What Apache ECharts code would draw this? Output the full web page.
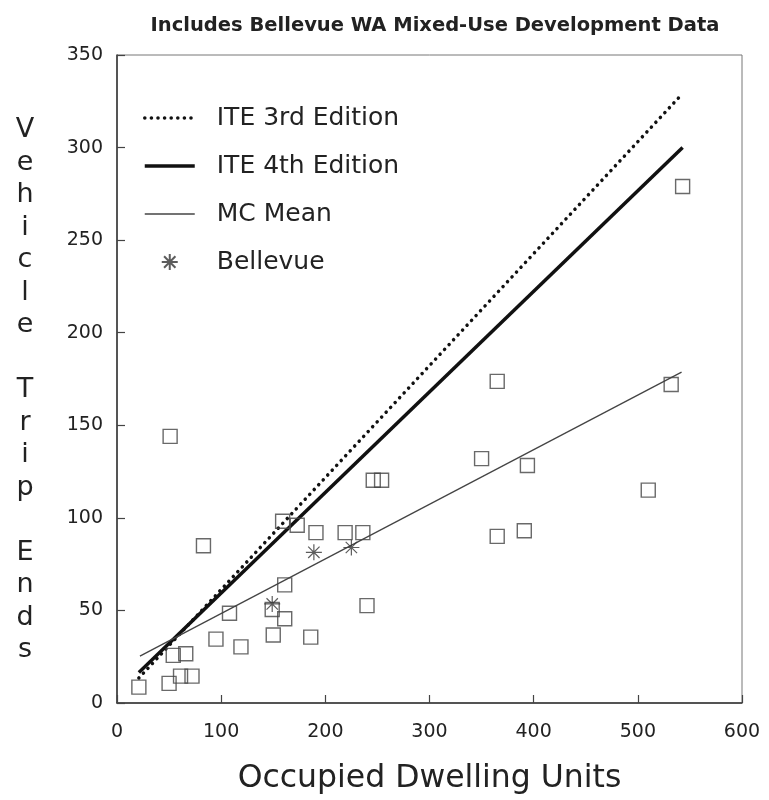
<!DOCTYPE html>
<html>
<head>
<meta charset="utf-8">
<script src="https://cdn.jsdelivr.net/npm/echarts@6/dist/echarts.min.js"></script>
<style>
  html, body { margin: 0; padding: 0; background: #fff; }
  #chart { width: 769px; height: 800px; }
</style>
</head>
<body>
<div id="chart"></div>
<script>
// Axis ticks
const xTicks = [0, 100, 200, 300, 400, 500, 600];
const yTicks = [0, 50, 100, 150, 200, 250, 300, 350];

// Observed sites: occupied dwelling units vs. vehicle trip ends
const siteUnits = [21, 50, 61, 72, 54, 66, 83, 95, 108, 119, 149, 150, 161, 161, 159, 173, 191, 186,
                   219, 236, 240, 51, 246, 254, 350, 365, 365, 391, 394, 510, 532, 543];
const siteTrips = [8.6, 10.6, 14.5, 14.5, 25.7, 26.6, 84.9, 34.5, 48.5, 30.3, 50.5, 36.7, 45.5, 63.8, 98.2, 96, 92, 35.6,
                   92, 92, 52.6, 144, 120.3, 120.3, 132, 173.7, 90, 93, 128.3, 115, 172, 279];

// Bellevue WA mixed-use sites
const bellevueUnits = [149, 189, 225];
const bellevueTrips = [53.5, 81.4, 84];

// Fitted trip-rate lines (end points)
const ite3Units = [21, 541];
const ite3Trips = [13.5, 328];
const ite4Units = [21, 543];
const ite4Trips = [16.5, 300];
const mcUnits = [22, 542];
const mcTrips = [25.3, 178.7];

const legendNames = ['ITE 3rd Edition', 'ITE 4th Edition', 'MC Mean', 'Bellevue'];

const pairs = (xs, ys) => xs.map((x, i) => [x, ys[i]]);

const FONT = 'DejaVu Sans';
const INK = '#222';

const asterisk = 'path://M10,0L10,20M0,10L20,10M2.9,2.9L17.1,17.1M2.9,17.1L17.1,2.9';

// line entries in the legend show only the stroke sample, no marker
const hiddenMarker = { color: 'rgba(0,0,0,0)', borderColor: 'rgba(0,0,0,0)', borderWidth: 0 };

const chart = echarts.init(document.getElementById('chart'), null, { renderer: 'canvas' });

chart.setOption({
  backgroundColor: '#fff',
  animation: false,
  title: {
    text: 'Includes Bellevue WA Mixed-Use Development Data',
    left: 430,
    textAlign: 'center',
    top: 11,
    textStyle: { fontFamily: FONT, fontSize: 19.5, fontWeight: 'bold', color: INK }
  },
  grid: {
    left: 117, right: 27, top: 55, bottom: 86,
    show: true, borderColor: '#777', borderWidth: 1
  },
  legend: {
    data: legendNames.map((name, i) => i < 3 ? { name, itemStyle: hiddenMarker } : { name }),
    orient: 'vertical',
    left: 138,
    top: 99,
    itemWidth: 50,
    itemHeight: 16,
    itemGap: 20,
    selectedMode: false,
    lineStyle: { width: 'inherit' },
    textStyle: { fontFamily: FONT, fontSize: 25, color: INK, lineHeight: 28, padding: [0, 0, 0, 17] }
  },
  xAxis: {
    type: 'value',
    min: xTicks[0],
    max: xTicks[xTicks.length - 1],
    interval: 100,
    name: 'Occupied Dwelling Units',
    nameLocation: 'middle',
    nameGap: 60,
    nameTextStyle: { fontFamily: FONT, fontSize: 31.5, color: INK },
    axisLine: { show: true, lineStyle: { color: '#333', width: 1.5 } },
    axisTick: { show: true, inside: true, length: 8, lineStyle: { color: '#444', width: 1.2 } },
    axisLabel: { margin: 20, fontFamily: FONT, fontSize: 19, color: INK },
    splitLine: { show: false }
  },
  yAxis: {
    type: 'value',
    min: yTicks[0],
    max: yTicks[yTicks.length - 1],
    interval: 50,
    axisLine: { show: true, lineStyle: { color: '#333', width: 1.5 } },
    axisTick: { show: true, inside: true, length: 8, lineStyle: { color: '#444', width: 1.2 } },
    axisLabel: { margin: 14, fontFamily: FONT, fontSize: 19, color: INK },
    splitLine: { show: false }
  },
  graphic: [{
    type: 'text',
    x: 25,
    y: 114,
    style: {
      text: 'V\ne\nh\ni\nc\nl\ne\n\nT\nr\ni\np\n\nE\nn\nd\ns',
      fontFamily: FONT,
      fontSize: 27,
      lineHeight: 32.5,
      align: 'center',
      verticalAlign: 'top',
      fill: INK
    }
  }],
  series: [
    {
      name: legendNames[0],
      type: 'line',
      data: pairs(ite3Units, ite3Trips),
      symbol: 'none',
      lineStyle: { color: '#111', width: 3.5, type: [0.1, 6.5], cap: 'round' },
      z: 3
    },
    {
      name: legendNames[1],
      type: 'line',
      data: pairs(ite4Units, ite4Trips),
      symbol: 'none',
      lineStyle: { color: '#111', width: 3.5 },
      z: 3
    },
    {
      name: legendNames[2],
      type: 'line',
      data: pairs(mcUnits, mcTrips),
      symbol: 'none',
      lineStyle: { color: '#444', width: 1.3 },
      z: 3
    },
    {
      name: 'Sites',
      type: 'scatter',
      data: pairs(siteUnits, siteTrips),
      symbol: 'rect',
      symbolSize: 14,
      itemStyle: { color: 'rgba(0,0,0,0)', borderColor: '#444', borderWidth: 1.4 },
      z: 4
    },
    {
      name: legendNames[3],
      type: 'scatter',
      data: pairs(bellevueUnits, bellevueTrips),
      symbol: asterisk,
      symbolSize: 16,
      itemStyle: { color: 'rgba(0,0,0,0)', borderColor: '#333', borderWidth: 1.2 },
      z: 5
    }
  ]
});
</script>
</body>
</html>
